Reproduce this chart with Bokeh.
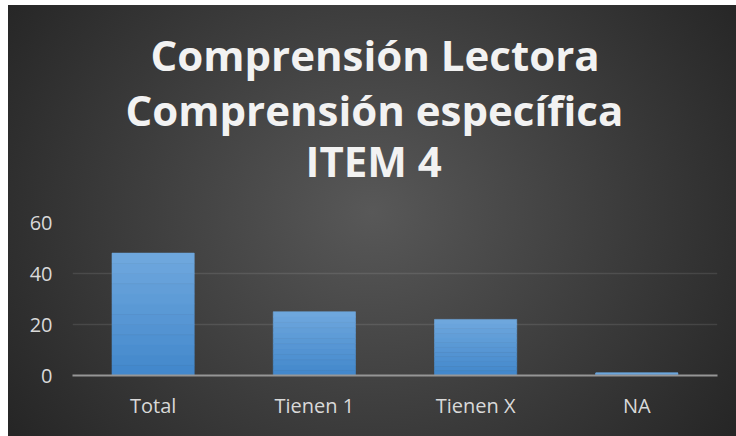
from bokeh.plotting import figure
from bokeh.models import Title, FixedTicker, ColumnDataSource, FactorRange, Range1d
from bokeh.embed import file_html
from bokeh.resources import INLINE

categories = ["Total", "Tienen 1", "Tienen X", "NA"]
values = [48, 25, 22, 1]
y_ticks = [0, 20, 40, 60]
title_lines = ["Comprensión Lectora", "Comprensión específica", "ITEM 4"]

BAR_TOP = (0x70, 0xA8, 0xDE)
BAR_BOT = (0x41, 0x87, 0xCB)
N = 12

xs, bottoms, tops, colors = [], [], [], []
for cat, v in zip(categories, values):
    for k in range(N):
        t = (k + 0.5) / N
        c = tuple(int(round(BAR_BOT[i] + (BAR_TOP[i] - BAR_BOT[i]) * t)) for i in range(3))
        xs.append(cat)
        bottoms.append(v * k / N)
        tops.append(v * (k + 1) / N)
        colors.append("#%02x%02x%02x" % c)
src = ColumnDataSource(dict(x=xs, bottom=bottoms, top=tops, color=colors))

p = figure(x_range=FactorRange(*categories), y_range=Range1d(0, 60),
           width=728, height=431,
           output_backend="svg", toolbar_location=None,
           min_border_left=64, min_border_right=19, min_border_bottom=61, min_border_top=217)

p.background_fill_alpha = 0
p.border_fill_alpha = 0
p.outline_line_color = None
p.styles = {"margin-left": "8px", "margin-top": "5px",
            "background": "radial-gradient(ellipse 440px 380px at 50% 48%, #585858 0%, #262626 100%)"}

p.vbar(x="x", bottom="bottom", top="top", width=0.51, source=src,
       fill_color="color", line_color="color", line_width=0.6)

p.yaxis.ticker = FixedTicker(ticks=y_ticks)
p.ygrid.ticker = FixedTicker(ticks=y_ticks)
p.xgrid.grid_line_color = None
p.ygrid.grid_line_color = "white"
p.ygrid.grid_line_alpha = 0.1
p.ygrid.grid_line_width = 1.5

for ax in (p.xaxis[0], p.yaxis[0]):
    ax.major_tick_line_color = None
    ax.minor_tick_line_color = None
    ax.major_tick_out = 0
    ax.major_label_text_color = "#d9d9d9"
    ax.major_label_text_font = "Open Sans"
    ax.major_label_text_font_size = "20px"
p.yaxis.axis_line_color = None
p.yaxis.major_label_standoff = 20
p.xaxis.axis_line_color = "#969696"
p.xaxis.axis_line_width = 2
p.xaxis.major_label_standoff = 16

# spacer between plot area and the title block
p.add_layout(Title(text=" ", text_font_size="1px", standoff=33), "above")
title_offsets = [78, 53, 233]
title_standoffs = [3, -11, -5]
for txt, off, so in reversed(list(zip(title_lines, title_offsets, title_standoffs))):
    p.add_layout(Title(text=txt, align="left", offset=off, text_font="Open Sans", text_font_size="42px",
                       text_font_style="bold", text_color="#f2f2f2", standoff=so), "above")

open("out.html", "w").write(file_html(p, INLINE))
